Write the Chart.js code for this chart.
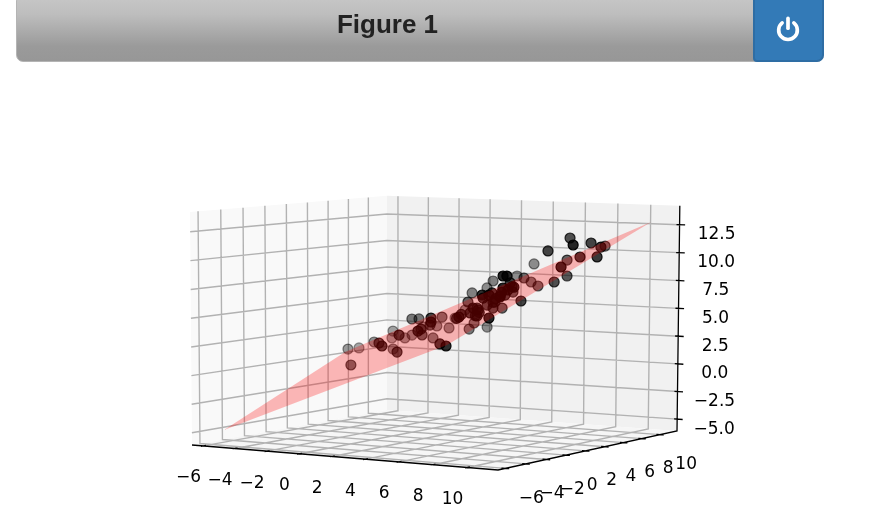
<!DOCTYPE html>
<html><head><meta charset="utf-8"><title>Figure 1</title>
<script src="https://cdn.jsdelivr.net/npm/chart.js@4"></script>
<style>
html,body{margin:0;padding:0;background:#fff;overflow:hidden}
#wrap{position:relative;width:887px;height:528px}
canvas{position:absolute;left:0;top:0}
#bar{position:absolute;left:16px;top:-6px;width:808px;height:68px;box-sizing:border-box;border:1px solid #b4b4b4;border-radius:7px;background:linear-gradient(#c8c8c8 0%,#bdbdbd 30%,#9a9a9a 78%,#979797 100%);z-index:2}
#title{position:absolute;left:16px;width:743px;top:7px;text-align:center;font:bold 26px/34px "Liberation Sans",Arial,sans-serif;color:#222;z-index:3}
#btn{position:absolute;left:753px;top:-6px;width:71px;height:68px;box-sizing:border-box;background:#337ab7;border:2px solid #2e6da4;border-radius:0 7px 7px 4px;z-index:3}
#btn svg{position:absolute;left:20px;top:20px}
</style></head>
<body><div id="wrap">
<div id="bar"></div><div id="title">Figure 1</div>
<div id="btn"><svg width="26" height="26" viewBox="0 0 24 24" fill="none" stroke="#fff" stroke-width="3.4" stroke-linecap="round"><path d="M6.6 6.4a8.6 8.6 0 1 0 10.8 0"/><path d="M12 2.2v9"/></svg></div>
<canvas id="c" width="887" height="528"></canvas>
</div>
<script>
// ---- data ----
const xTicks=[-6,-4,-2,0,2,4,6,8,10];
const yTicks=[-6,-4,-2,0,2,4,6,8,10];
const zTicks=[-5,-2.5,0,2.5,5,7.5,10,12.5];
const xLimits=[-6.73,11.75];
const yLimits=[-6.7,11.9];
const zLimits=[-6.08,14.2];
const pointX=[-3.28,-3.45,-0.78,-1.68,1.46,2.75,-0.95,2.72,-2.13,-2.17,3.38,-1.08,0.94,1.21,-0.22,4.66,2.49,3.61,-0.96,4.56,5.14,2.79,0.74,2.09,1.21,1.17,5.47,6.27,0.87,6.74,3.13,3.32,1.83,4.22,2.67,6.01,6.69,6.31,6.27,2.69,8.41,3.48,8.92,9.06,3.85,5.79,5.51,6.33,7.91,4.51,8.91,8.60,11.05,7.99,8.54,10.66,9.19,11.49,10.53,11.30,11.44,8.91,7.59,2.68,7.39,7.06,6.08,6.30,5.52,5.25,7.31,8.92,8.06,7.98,6.49,7.69,7.84,5.70,6.3,7.3,8.1,7.0,7.5,6.2,5.6,8.5,5.3,4.9];
const pointY=[2.72,4.05,-0.78,2.82,-1.54,-3.25,3.55,-1.78,5.37,5.33,-2.62,4.92,2.44,2.71,4.28,-2.84,0.99,-0.89,6.54,-1.44,-2.36,1.29,5.24,3.59,5.71,4.17,-2.03,-2.73,6.87,-2.26,4.63,4.82,6.33,2.72,5.67,0.01,-0.81,0.31,0.27,7.19,-2.09,6.48,-1.58,-1.44,8.35,5.79,7.01,6.33,1.91,9.01,2.91,4.10,0.55,6.49,5.54,3.16,4.69,0.99,4.53,3.80,3.94,8.91,-1.41,7.18,-0.11,-0.44,1.58,1.80,4.02,3.75,1.31,-1.58,0.56,0.48,3.49,0.19,-1.16,1.20,1.8,0.4,-0.5,1.5,1.7,0.6,1.2,0.2,0.3,0.5];
const pointZ=[1.31,1.21,0.61,2.07,2.84,2.93,1.40,2.20,2.68,2.05,3.84,2.20,4.39,4.38,2.62,4.32,3.29,4.15,2.99,5.25,5.07,4.15,3.39,4.51,3.19,2.49,3.17,3.16,3.91,5.61,3.39,3.92,4.78,6.11,6.45,5.62,6.20,5.86,5.35,3.20,5.64,7.49,9.18,9.17,7.76,7.99,7.48,7.26,6.57,8.82,10.86,8.02,9.86,9.65,8.38,10.42,11.83,11.71,11.49,10.40,11.25,10.71,7.45,6.73,7.46,7.04,6.12,5.85,5.52,6.06,7.11,8.16,8.29,7.69,7.06,7.10,7.44,5.88,6.35,6.9,7.3,7.3,7.8,5.6,5.2,8.0,5.4,5.0];
const planeX=[-5.53,9.01,10.69,-7.40];
const planeY=[-5.53,-7.04,10.69,8.65];
const planeZ=[-4.84,4.08,12.79,-0.15];

// ---- 3-D view of the box, as matplotlib's perspective gives it ----
const O=[192,445,1],A=[498,470,1],B=[387,410,1],C=[190,212,1];
const wA=0.9453,wB=1.0889,wC=0.99;
const cA=A.map((v,i)=>wA*v-O[i]),cB=B.map((v,i)=>wB*v-O[i]),cC=C.map((v,i)=>wC*v-O[i]);
const [xlo,xhi]=xLimits,[ylo,yhi]=yLimits,[zlo,zhi]=zLimits;
function P(x,y,z){
  const a=(x-xlo)/(xhi-xlo),b=(y-ylo)/(yhi-ylo),c=(z-zlo)/(zhi-zlo);
  const h=[0,1,2].map(i=>a*cA[i]+b*cB[i]+c*cC[i]+O[i]);
  return {x:h[0]/h[2],y:h[1]/h[2]};
}
const GAP={x:NaN,y:NaN};
const path=pts=>pts.map(p=>P(p[0],p[1],p[2]));
function lines(list){const out=[];list.forEach(l=>{out.push(...path(l),GAP);});return out;}
const span=xhi-xlo,spanY=yhi-ylo;

const paneLeft=path([[xlo,ylo,zlo],[xlo,yhi,zlo],[xlo,yhi,zhi],[xlo,ylo,zhi],[xlo,ylo,zlo]]);
const paneBack=path([[xlo,yhi,zlo],[xhi,yhi,zlo],[xhi,yhi,zhi],[xlo,yhi,zhi],[xlo,yhi,zlo]]);
const paneFloor=path([[xlo,ylo,zlo],[xhi,ylo,zlo],[xhi,yhi,zlo],[xlo,yhi,zlo],[xlo,ylo,zlo]]);
const grid=lines([
  ...xTicks.map(t=>[[t,ylo,zlo],[t,yhi,zlo],[t,yhi,zhi]]),
  ...yTicks.map(t=>[[xhi,t,zlo],[xlo,t,zlo],[xlo,t,zhi]]),
  ...zTicks.map(t=>[[xlo,ylo,t],[xlo,yhi,t],[xhi,yhi,t]])
]);
const axes=lines([
  [[xlo,ylo,zlo],[xhi,ylo,zlo],[xhi,yhi,zlo],[xhi,yhi,zhi]],
  ...xTicks.map(t=>[[t,ylo-0.012*spanY,zlo],[t,ylo+0.012*spanY,zlo]]),
  ...yTicks.map(t=>[[xhi-0.012*span,t,zlo],[xhi+0.012*span,t,zlo]]),
  ...zTicks.map(t=>[[xhi-0.01*span,yhi,t],[xhi+0.018*span,yhi,t]])
]);

// points far to near; depth shading follows x-y (the viewer sits at high x, low y)
const order=pointX.map((_,i)=>i).sort((i,j)=>(pointX[i]-pointY[i])-(pointX[j]-pointY[j]));
const shade=i=>Math.max(0.3,Math.min(1,0.65+(pointX[i]-pointY[i])/30));
const scatter=order.map(i=>P(pointX[i],pointY[i],pointZ[i]));
const fills=order.map(i=>`rgba(0,0,0,${(shade(i)*0.85).toFixed(3)})`);
const rims=order.map(i=>`rgba(0,0,0,${shade(i).toFixed(3)})`);
const plane=[0,1,2,3,0].map(i=>P(planeX[i],planeY[i],planeZ[i]));

const line=(data,color,width)=>({data,showLine:true,spanGaps:false,borderColor:color,borderWidth:width,pointRadius:0,fill:false,tension:0,borderCapStyle:'butt'});
const area=(data,color)=>({data,showLine:true,borderWidth:0,borderColor:'rgba(0,0,0,0)',backgroundColor:color,pointRadius:0,fill:'shape',tension:0});
const layers=[
  area(paneLeft,'#f9f9f9'),
  area(paneBack,'#f1f1f1'),
  area(paneFloor,'#f6f6f6'),
  line(grid,'#b2b2b2',1.4),
  line(axes,'#000',1.3),
  {data:scatter,showLine:false,pointRadius:5,pointHoverRadius:5,pointBackgroundColor:fills,pointBorderColor:rims,pointBorderWidth:1.2},
  area(plane,'rgba(255,0,0,0.27)')
];
layers.forEach((d,i)=>{d.order=layers.length-i;});

const tickText={
  id:'tickText',
  afterDatasetsDraw(chart){
    const {ctx,scales:{x:sx,y:sy}}=chart;
    const put=(t,p,dx,dy)=>ctx.fillText(t,sx.getPixelForValue(p.x)+dx,sy.getPixelForValue(p.y)+dy);
    const num=(v,d)=>(v<0?'\u2212':'')+Math.abs(v).toFixed(d);
    ctx.save();
    ctx.font='17px "DejaVu Sans"';ctx.fillStyle='#000';ctx.textAlign='center';ctx.textBaseline='middle';
    xTicks.forEach(t=>put(num(t,0),P(t,ylo,zlo),-15,32));
    yTicks.forEach(t=>put(num(t,0),P(xhi,t,zlo),26,30));
    zTicks.forEach(t=>put(num(t,1),P(xhi,yhi,t),37,10));
    ctx.restore();
  }
};

new Chart(document.getElementById('c'),{
  type:'scatter',
  data:{datasets:layers},
  plugins:[tickText],
  options:{
    responsive:false,animation:false,devicePixelRatio:1,
    layout:{padding:0,autoPadding:false},
    events:[],
    plugins:{legend:{display:false},tooltip:{enabled:false},title:{display:false}},
    scales:{
      x:{type:'linear',min:0,max:887,display:false},
      y:{type:'linear',min:0,max:528,reverse:true,display:false}
    }
  }
});
</script></body></html>
